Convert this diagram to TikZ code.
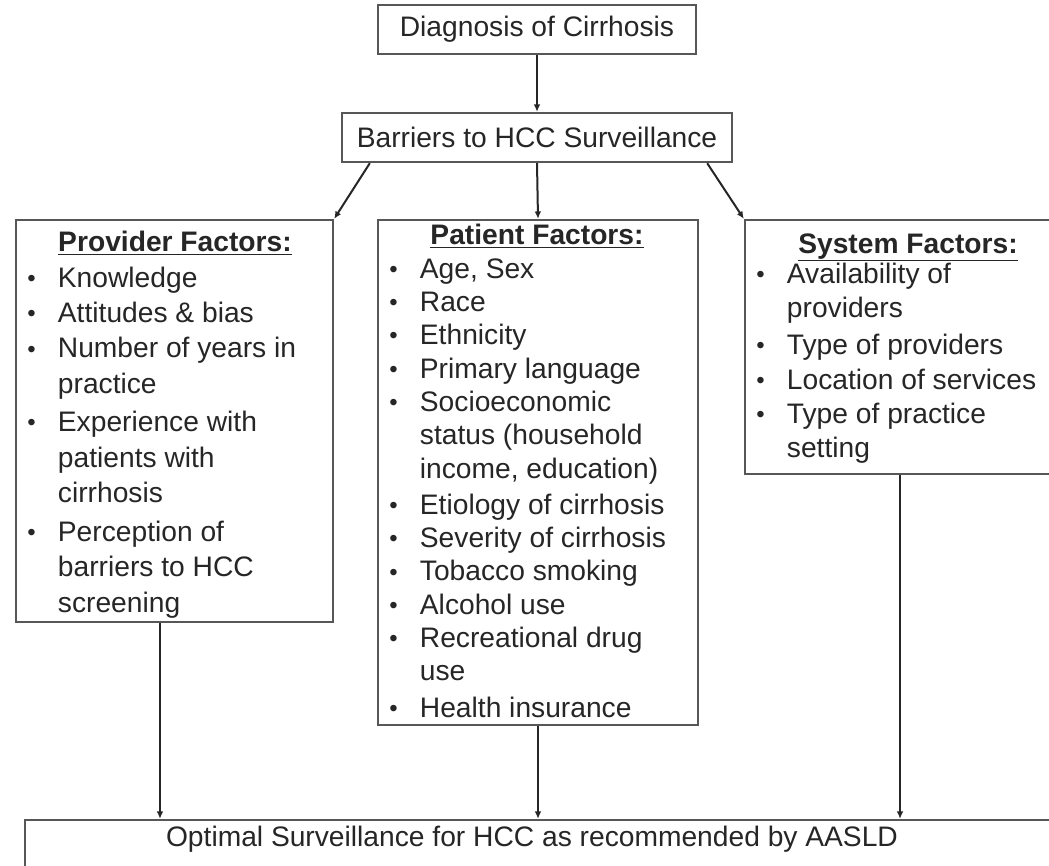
\documentclass[tikz,border=0pt]{standalone}
\usepackage{fontspec}
\setmainfont{Liberation Sans}
\usetikzlibrary{arrows.meta,fit}

\newcommand{\bl}{\makebox[23pt][l]{\raisebox{.6pt}{\scalebox{.85}{\textbullet}}}}
\newcommand{\boxtitle}[1]{\underline{\textbf{#1}}}

\begin{document}
\begin{tikzpicture}[
  x=.75pt,y=-.75pt,
  line cap=butt,line join=miter,
  font=\fontsize{21.15}{26.25}\selectfont,
  box/.style={draw=black!66,line width=1.8pt,inner sep=0pt,fill=white},
  plain/.style={text=black!85,inner sep=0pt},
  factors/.style={plain,anchor=base west,align=left},
  arrow/.style={-{Latex[length=5.5pt,width=5pt]},line width=1.5pt,draw=black!85}
]
\useasboundingbox (0,0) rectangle (1049,866);
\clip (0,0) rectangle (1049,866);

\node[box,fit={(378,5) (696,54)}] (diag) {};
\node[plain] (diagtxt) at (diag.center) {Diagnosis of Cirrhosis};

\node[box,fit={(342,113) (732,162)}] (barr) {};
\node[plain] (barrtxt) at (barr.center) {Barriers to HCC Surveillance};

\node[box,fit={(16,220) (333,622)}] (prov) {};
\node[plain,anchor=base] (provhead) at (175,252) {\boxtitle{Provider Factors:}};
\node[factors] (provlist) at (27,287) {%
  \fontsize{21.15}{26.6}\selectfont
  \begin{tabular}[t]{@{}l@{}l@{}}
  \bl & Knowledge\\
  \bl & Attitudes \& bias\\
  \bl & Number of years in\\
      & practice\\[2.2pt]
  \bl & Experience with\\
      & patients with\\
      & cirrhosis\\[2.2pt]
  \bl & Perception of\\
      & barriers to HCC\\
      & screening
  \end{tabular}};

\node[box,fit={(378,220) (698,725)}] (pat) {};
\node[plain,anchor=base] (pathead) at (537,245) {\boxtitle{Patient Factors:}};
\node[factors] (patlist) at (389,278) {%
  \fontsize{21.15}{25}\selectfont
  \begin{tabular}[t]{@{}l@{}l@{}}
  \bl & Age, Sex\\
  \bl & Race\\
  \bl & Ethnicity\\
  \bl & Primary language\\
  \bl & Socioeconomic\\
      & status (household\\
      & income, education)\\[2.2pt]
  \bl & Etiology of cirrhosis\\
  \bl & Severity of cirrhosis\\
  \bl & Tobacco smoking\\
  \bl & Alcohol use\\
  \bl & Recreational drug\\
      & use\\[2.2pt]
  \bl & Health insurance
  \end{tabular}};

\node[box,fit={(745,220) (1070,474)}] (sys) {};
\node[plain,anchor=base] (syshead) at (908,253) {\boxtitle{System Factors:}};
\node[factors] (syslist) at (756,283) {%
  \fontsize{21.15}{25.8}\selectfont
  \begin{tabular}[t]{@{}l@{}l@{}}
  \bl & Availability of\\
      & providers\\[2.2pt]
  \bl & Type of providers\\
  \bl & Location of services\\
  \bl & Type of practice\\
      & setting
  \end{tabular}};

\node[box,fit={(25,820) (1070,900)}] (opt) {};
\node[plain] (opttxt) at (532,839) {Optimal Surveillance for HCC as recommended by AASLD};

\draw[arrow] (diag.south) -- (barr.north);
\draw[arrow] ([xshift=21.75pt]barr.south west) -- (prov.north east);
\draw[arrow] (barr.south) -- (pat.north);
\draw[arrow] ([xshift=-19.5pt]barr.south east) -- (sys.north west);

\draw[arrow] ([xshift=-10.9pt]prov.south) -- ([xshift=-10.9pt]prov.south |- opt.north);
\draw[arrow] (pat.south) -- (pat.south |- opt.north);
\draw[arrow] ([xshift=-5.6pt]sys.south) -- ([xshift=-5.6pt]sys.south |- opt.north);
\end{tikzpicture}
\end{document}
